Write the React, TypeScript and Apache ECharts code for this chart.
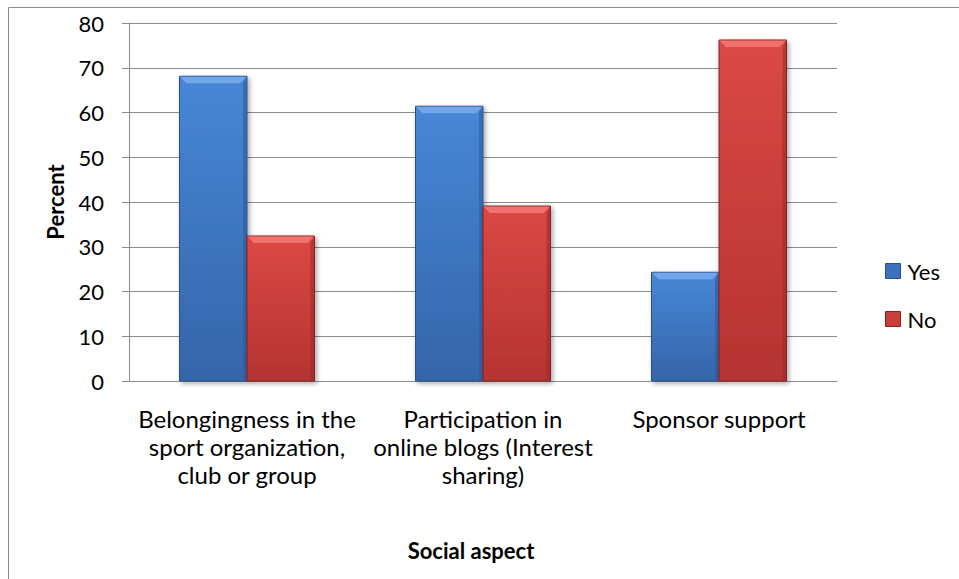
import React, { useEffect, useRef } from "react";
import * as echarts from "echarts";

const categories = [
  "Belongingness in the\nsport organization,\nclub or group",
  "Participation in\nonline blogs (Interest\nsharing)",
  "Sponsor support",
];
const yesValues = [68.1, 61.4, 24.3];
const noValues = [32.4, 39.1, 76.2];
const seriesNames = ["Yes", "No"];
const yTicks = { min: 0, max: 80, interval: 10 };
const yAxisTitle = "Percent";
const xAxisTitle = "Social aspect";

const FONT = "Lato, 'Liberation Sans', sans-serif";

const palettes = [
  { top: "#4787d6", bottom: "#3565aa", bevel: "#72a6ea", side: "#2f5c9c", border: "#28508a", legend: "#3c72bd" },
  { top: "#dc4844", bottom: "#b43431", bevel: "#f0716d", side: "#9e2c29", border: "#862220", legend: "#c83e3a" },
];

function makeRender(seriesIdx: number) {
  const p = palettes[seriesIdx];
  return (params: any, api: any) => {
    const cat = api.value(0);
    const val = api.value(1);
    const topPt = api.coord([cat, val]);
    const basePt = api.coord([cat, 0]);
    const band = api.size([1, 0])[0];
    const groupW = band * (1 - 0.428);
    const w = groupW / 2;
    const x = seriesIdx === 0 ? topPt[0] - w : topPt[0];
    const y = topPt[1];
    const h = basePt[1] - topPt[1];
    const b = Math.min(7, h / 2);
    return {
      type: "group",
      children: [
        {
          type: "rect",
          shape: { x, y, width: w, height: h },
          style: {
            fill: new echarts.graphic.LinearGradient(0, 0, 0, 1, [
              { offset: 0, color: p.top },
              { offset: 1, color: p.bottom },
            ]),
            stroke: p.border,
            lineWidth: 1,
            shadowBlur: 5,
            shadowOffsetX: 2,
            shadowOffsetY: 2,
            shadowColor: "rgba(0,0,0,0.35)",
          },
        },
        {
          type: "polygon",
          shape: {
            points: [
              [x + 0.5, y + 0.5],
              [x + w - 0.5, y + 0.5],
              [x + w - b, y + b],
              [x + b, y + b],
            ],
          },
          style: { fill: p.bevel },
        },
        {
          type: "polygon",
          shape: {
            points: [
              [x + w - 0.5, y + 0.5],
              [x + w - 0.5, y + h - 0.5],
              [x + w - 4, y + h - 0.5],
              [x + w - 4, y + b],
            ],
          },
          style: { fill: p.side, opacity: 0.6 },
        },
      ],
    };
  };
}

export default function App() {
  const ref = useRef<HTMLDivElement>(null);
  useEffect(() => {
    if (!ref.current) return;
    const chart = echarts.init(ref.current, null, { renderer: "svg" });
    const option: any = {
      animation: false,
      backgroundColor: "#ffffff",
      grid: { left: 129, right: 122, top: 23, bottom: 198, containLabel: false },
      legend: {
        orient: "vertical",
        left: 880,
        top: 254,
        itemWidth: 15,
        itemHeight: 15,
        itemGap: 24,
        icon: "rect",
        textStyle: { fontFamily: FONT, fontSize: 22, color: "#000", lineHeight: 24, padding: [0, 0, 0, 2] },
        data: seriesNames.map((n, i) => ({ name: n, itemStyle: { color: palettes[i].legend, borderColor: palettes[i].border, borderWidth: 1 } })),
      },
      xAxis: {
        type: "category",
        data: categories,
        axisLine: { show: true, lineStyle: { color: "#8c8c8c", width: 1 } },
        axisTick: { show: false },
        axisLabel: {
          interval: 0,
          margin: 23,
          fontFamily: FONT,
          fontSize: 24,
          lineHeight: 28,
          color: "#000",
          align: "center",
        },
        splitLine: { show: false },
      },
      yAxis: {
        type: "value",
        min: yTicks.min,
        max: yTicks.max,
        interval: yTicks.interval,
        axisLine: { show: true, lineStyle: { color: "#8c8c8c", width: 1 } },
        axisTick: { show: true, inside: false, length: 7, lineStyle: { color: "#8c8c8c" } },
        axisLabel: { margin: 25, fontFamily: FONT, fontSize: 22, color: "#000" },
        splitLine: { show: true, lineStyle: { color: "#8c8c8c", width: 1 } },
      },
      series: [yesValues, noValues].map((vals, si) => ({
        type: "custom",
        name: seriesNames[si],
        itemStyle: { color: palettes[si].legend },
        renderItem: makeRender(si),
        encode: { x: 0, y: 1 },
        data: vals.map((v, i) => [i, v]),
      })),
      graphic: [
        {
          type: "rect",
          silent: true,
          z: -1,
          shape: { x: 8.5, y: 7.5, width: 1000, height: 1000 },
          style: { fill: "none", stroke: "#8c8c8c", lineWidth: 1 },
        },
        {
          type: "text",
          x: 55,
          y: 202,
          rotation: Math.PI / 2,
          style: {
            text: yAxisTitle,
            fontFamily: FONT,
            fontSize: 22,
            fontWeight: "bold",
            fill: "#000",
            align: "center",
            verticalAlign: "middle",
          },
        },
        {
          type: "text",
          x: 471,
          y: 550,
          style: {
            text: xAxisTitle,
            fontFamily: FONT,
            fontSize: 22,
            fontWeight: "bold",
            fill: "#000",
            align: "center",
            verticalAlign: "middle",
          },
        },
      ],
    };
    chart.setOption(option);
    return () => chart.dispose();
  }, []);
  return (
    <div
      ref={ref}
      style={{ position: "fixed", left: 0, top: 0, width: 959, height: 579 }}
    />
  );
}
